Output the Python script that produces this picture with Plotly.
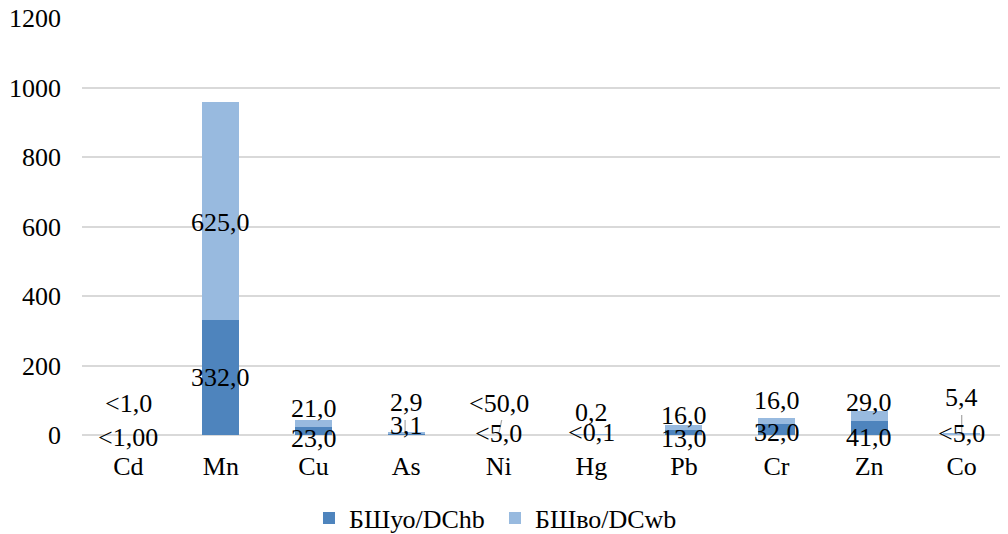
import plotly.graph_objects as go

categories = ["Cd", "Mn", "Cu", "As", "Ni", "Hg", "Pb", "Cr", "Zn", "Co"]
dchb_values = [0, 332, 23, 3.1, 0, 0, 13, 32, 41, 0]
dcwb_values = [0, 625, 21, 2.9, 0, 0.2, 16, 16, 29, 5.4]
dchb_labels = ["<1,00", "332,0", "23,0", "3,1", "<5,0", "<0,1", "13,0", "32,0", "41,0", "<5,0"]
dcwb_labels = ["<1,0", "625,0", "21,0", "2,9", "<50,0", "0,2", "16,0", "16,0", "29,0", "5,4"]
y_ticks = [0, 200, 400, 600, 800, 1000, 1200]

# label pixel offsets (layout only)
dchb_shift = [-2, 0, -3, 10, 2, 3, -3, 3, -2, 2]
dcwb_shift = [32, -11, 27, 33, 32, 23, 20, 35, 33, 38]

DARK = "#4E84BD"
LIGHT = "#98BADF"
FONT = "Liberation Serif"
FS = 26

fig = go.Figure()
fig.add_trace(go.Bar(x=categories, y=dchb_values, name="БШуо/DChb",
                     marker=dict(color=DARK, line=dict(width=0))))
fig.add_trace(go.Bar(x=categories, y=dcwb_values, name="БШво/DCwb",
                     marker=dict(color=LIGHT, line=dict(width=0))))

annotations = []
for i, c in enumerate(categories):
    big = dchb_values[i] > 200
    y1 = dchb_values[i] / 2 if big else 0
    annotations.append(dict(x=c, y=y1, xref="x", yref="y", text=dchb_labels[i],
                            showarrow=False, yshift=dchb_shift[i],
                            font=dict(family=FONT, size=FS, color="#000000")))
    y2 = dchb_values[i] + dcwb_values[i] / 2 if big else 0
    annotations.append(dict(x=c, y=y2, xref="x", yref="y", text=dcwb_labels[i],
                            showarrow=False, yshift=dcwb_shift[i],
                            font=dict(family=FONT, size=FS, color="#000000")))

# small leader lines (pixel offsets from the category baseline)
leaders = [("As", -1, 2, -1, 15), ("Ni", 0.5, 3, 3, 15), ("Co", 0, 2, 0, 20)]
shapes = []
for cat, dx0, dy0, dx1, dy1 in leaders:
    shapes.append(dict(type="line", xref="x", yref="y", xsizemode="pixel", ysizemode="pixel",
                       xanchor=cat, yanchor=0, x0=dx0, x1=dx1, y0=dy0, y1=dy1,
                       line=dict(color="#A6A6A6", width=1.2)))

fig.update_layout(
    barmode="stack",
    bargap=0.6,
    width=1000, height=526,
    margin=dict(l=74, r=0, t=10, b=99, autoexpand=False),
    paper_bgcolor="white", plot_bgcolor="white",
    font=dict(family=FONT, size=FS, color="#000000"),
    showlegend=True,
    legend=dict(orientation="h", x=0.446, xanchor="center", y=-0.199, yanchor="middle",
                entrywidth=141, entrywidthmode="pixels",
                font=dict(family=FONT, size=FS, color="#000000"), traceorder="normal"),
    annotations=annotations,
    shapes=shapes,
)
fig.update_xaxes(showgrid=False, showline=False, ticks="", automargin=False,
                 ticklabelstandoff=13, tickfont=dict(family=FONT, size=FS))
fig.update_yaxes(range=[0, 1200], tickvals=y_ticks, ticktext=[str(v) for v in y_ticks],
                 showgrid=True, gridcolor="#D9D9D9", gridwidth=1.5, zeroline=True,
                 zerolinecolor="#D9D9D9", zerolinewidth=1.5, showline=False, ticks="",
                 automargin=False, ticklabeloverflow="allow", ticklabelstandoff=20,
                 tickfont=dict(family=FONT, size=FS))

fig.write_html("out.html")
